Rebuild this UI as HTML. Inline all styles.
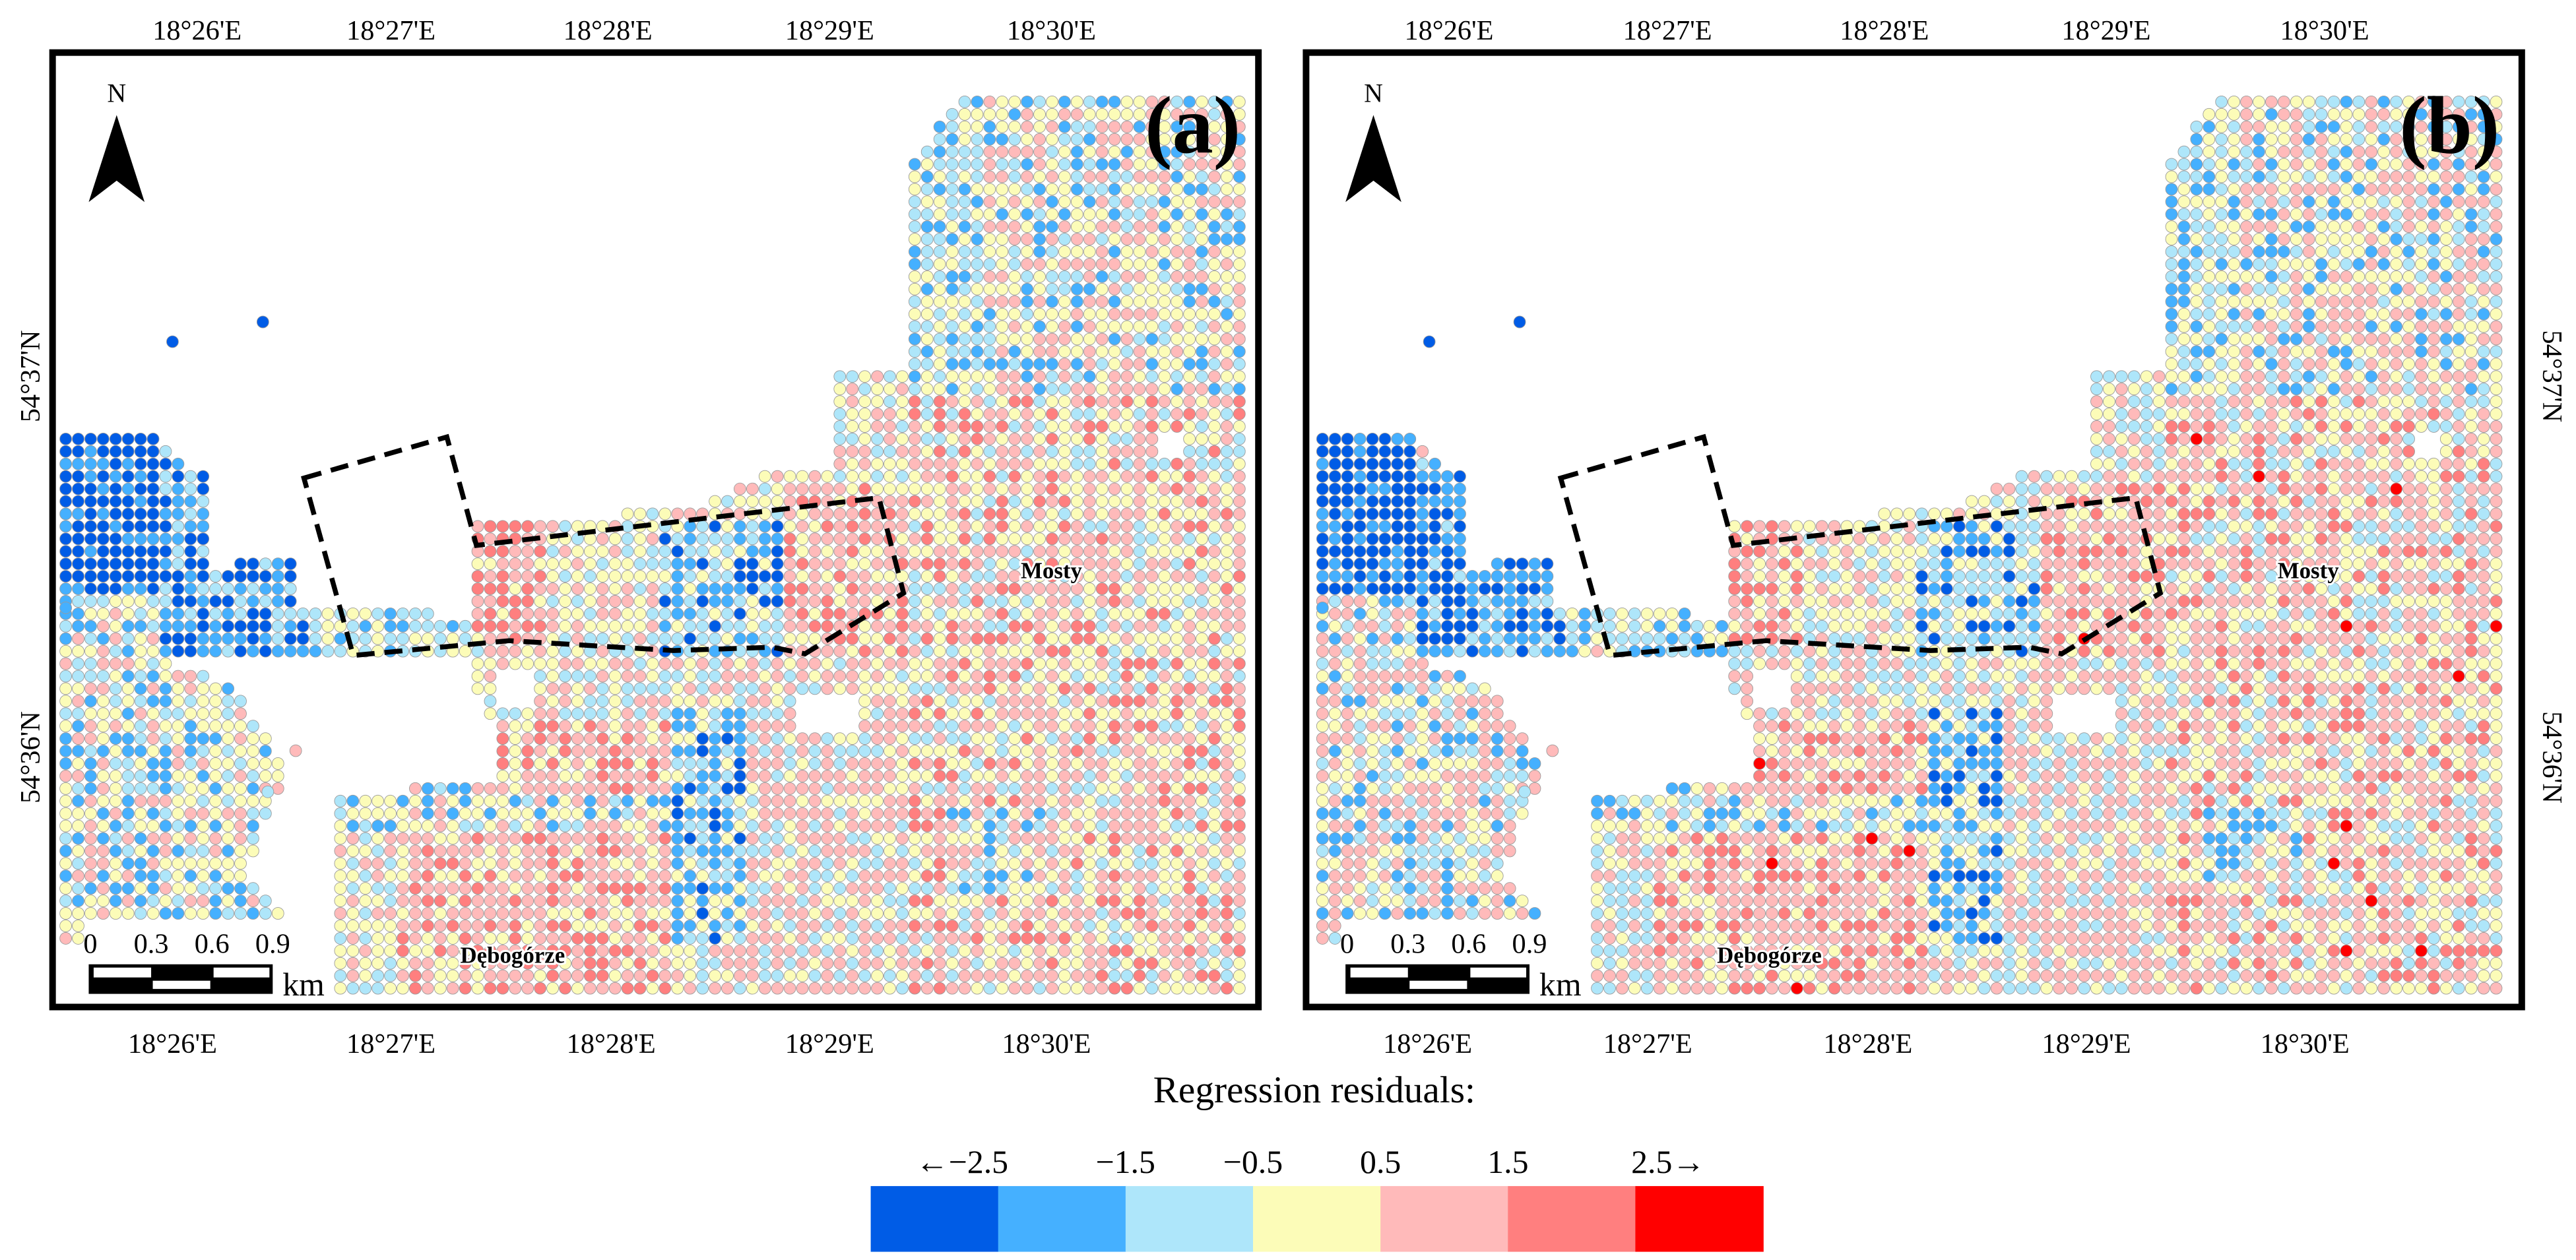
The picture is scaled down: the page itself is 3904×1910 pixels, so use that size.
<!DOCTYPE html>
<html><head><meta charset="utf-8"><title>Regression residuals maps</title>
<style>
html,body{margin:0;padding:0;background:#fff;}
svg{display:block;font-family:"Liberation Serif",serif;}
</style></head>
<body>
<svg id="fig" xmlns="http://www.w3.org/2000/svg" width="3904" height="1910" viewBox="0 0 1568 767" preserveAspectRatio="none">
<rect x="0" y="0" width="1568" height="767" fill="#fff"/>
<g id="dotsA"></g>
<g id="dotsB"></g>

<rect x="32" y="32" width="734" height="581" fill="none" stroke="#000" stroke-width="4"/>
<rect x="795" y="32" width="740" height="581" fill="none" stroke="#000" stroke-width="4"/>

<polygon points="185,291 272,266 290,332 535,303 550,361 490,398 470,394 410,396 310,390 215,399" fill="none" stroke="#000" stroke-width="3" stroke-dasharray="11,6"/>
<polygon points="950,291 1037,266 1055,332 1300,303 1315,361 1255,398 1235,394 1175,396 1075,390 980,399" fill="none" stroke="#000" stroke-width="3" stroke-dasharray="11,6"/>

<text x="726" y="93" font-size="50" font-weight="bold" text-anchor="middle">(a)</text>
<text x="1491" y="93" font-size="50" font-weight="bold" text-anchor="middle">(b)</text>

<g font-weight="bold" font-size="14" text-anchor="middle" stroke="#fff" stroke-width="2.5" paint-order="stroke" fill="#000">
<text x="640" y="352">Mosty</text>
<text x="312" y="586">Dębogórze</text>
<text x="1405" y="352">Mosty</text>
<text x="1077" y="586">Dębogórze</text>
</g>

<g>
<text x="71" y="62" font-size="16" text-anchor="middle">N</text>
<polygon points="71,70 88,123 71,110 54,123" fill="#000"/>
</g>
<g>
<text x="836" y="62" font-size="16" text-anchor="middle">N</text>
<polygon points="836,70 853,123 836,110 819,123" fill="#000"/>
</g>

<g>
<rect x="54" y="587" width="112" height="18" fill="#000"/>
<rect x="57" y="589" width="35" height="6" fill="#fff"/>
<rect x="130" y="589" width="34" height="6" fill="#fff"/>
<rect x="93" y="597" width="35" height="5" fill="#fff"/>
<g font-size="17" text-anchor="middle"><text x="55" y="580">0</text><text x="92" y="580">0.3</text><text x="129" y="580">0.6</text><text x="166" y="580">0.9</text></g>
<text x="172" y="606" font-size="20">km</text>
</g>
<g>
<rect x="819" y="587" width="112" height="18" fill="#000"/>
<rect x="822" y="589" width="35" height="6" fill="#fff"/>
<rect x="895" y="589" width="34" height="6" fill="#fff"/>
<rect x="858" y="597" width="35" height="5" fill="#fff"/>
<g font-size="17" text-anchor="middle"><text x="820" y="580">0</text><text x="857" y="580">0.3</text><text x="894" y="580">0.6</text><text x="931" y="580">0.9</text></g>
<text x="937" y="606" font-size="20">km</text>
</g>

<g font-size="17" text-anchor="middle" id="ticks"></g>
<text font-size="17" text-anchor="middle" transform="translate(24,229) rotate(-90)">54°37'N</text>
<text font-size="17" text-anchor="middle" transform="translate(24,461) rotate(-90)">54°36'N</text>
<text font-size="17" text-anchor="middle" transform="translate(1548,229) rotate(90)">54°37'N</text>
<text font-size="17" text-anchor="middle" transform="translate(1548,461) rotate(90)">54°36'N</text>

<text x="800" y="671" font-size="23" text-anchor="middle">Regression residuals:</text>
<g id="legend"></g>
</svg>
<script>
var NS = "http://www.w3.org/2000/svg";
var legendColors = ["#005ce6","#45b0ff","#aee6fa","#fcfcb8","#ffbaba","#ff7f7f","#ff0000"];
var legendBreaks = ["←−2.5","−1.5","−0.5","0.5","1.5","2.5→"];
var lonLabels = ["18°26'E","18°27'E","18°28'E","18°29'E","18°30'E"];
var topTickA = [120,238,370,505,640];
var botTickA = [105,238,372,505,637];
var topTickB = [882,1015,1147,1282,1415];
var botTickB = [869,1003,1137,1270,1403];

var landPolys = [
 [[585,57],[760,57],[760,607],[550,607],[550,100],[568,88],[575,68]],
 [[505,228],[550,228],[550,400],[290,400],[285,315],[415,312],[465,287],[505,287]],
 [[290,395],[550,395],[550,607],[200,607],[200,485],[300,475],[300,440],[290,420]],
 [[40,265],[90,262],[125,290],[125,345],[180,340],[185,370],[290,375],[290,402],[180,402],[100,402],[40,360]],
 [[40,360],[90,372],[90,400],[140,415],[175,470],[150,530],[175,560],[170,578],[40,578]]
];
var holePolys = [
 [[486,420],[522,420],[522,448],[486,448]],
 [[300,410],[322,410],[322,432],[300,432]],
 [[705,262],[720,262],[720,280],[705,280]],
 [[48,560],[172,560],[172,607],[48,607]]
];
var zones = [
 [40,255,100,362,[0,0,0,1]],
 [100,280,190,402,[1,0,1,2,0]],
 [185,355,290,405,[2,3,1,2]],
 [290,315,335,395,[5,4,5,4,3]],
 [400,320,475,398,[2,1,3,2,0]],
 [480,295,552,400,[4,5,4,3]],
 [335,300,480,400,[3,2,4,3]],
 [550,50,600,240,[2,1,3,2,3]],
 [600,50,765,240,[3,2,4,3,4,1]],
 [405,428,452,575,[1,2,0,1,3]],
 [290,440,420,485,[4,5,3,4]],
 [240,510,405,610,[4,5,4,3]],
 [195,470,410,515,[2,3,1,4,3]],
 [450,398,552,610,[3,4,2,4]],
 [575,490,640,545,[2,1,3,4]],
 [550,240,765,610,[4,3,4,5,2,3]],
 [30,360,190,600,[3,2,4,1,3]]
];
var strays = [[105,208,0],[160,196,0],[180,457,4],[163,482,2],[40,370,1]];

function inPoly(x,y,p){var c=false;for(var i=0,j=p.length-1;i<p.length;j=i++){var xi=p[i][0],yi=p[i][1],xj=p[j][0],yj=p[j][1];if(((yi>y)!=(yj>y))&&(x<(xj-xi)*(y-yi)/(yj-yi)+xi))c=!c;}return c;}
function inLand(x,y){for(var k=0;k<holePolys.length;k++)if(inPoly(x,y,holePolys[k]))return false;for(var k=0;k<landPolys.length;k++)if(inPoly(x,y,landPolys[k]))return true;return false;}
function classAt(x,y,i,j,seed,bias){
 var pal=[3,4,2];
 for(var k=0;k<zones.length;k++){var z=zones[k];if(x>=z[0]&&x<z[2]&&y>=z[1]&&y<z[3]){pal=z[4];break;}}
 var h=((i*73856093)^(j*19349663)^(seed*83492791))>>>0;h=(h%9973);
 var c=pal[h%pal.length];
 if(bias&&c===3&&(h%5===0))c=4;
 if(bias&&c===5&&(h%17===0))c=6;
 return c;
}
function drawPanel(gid,dx,seed,bias){
 var g=document.getElementById(gid);
 var step=7.6;
 for(var j=0;j*step+62<=607;j++){
  for(var i=0;i*step+40<=762;i++){
   var x=40+i*step,y=62+j*step;
   if(!inLand(x,y))continue;
   var c=classAt(x,y,i,j,seed,bias);
   var el=document.createElementNS(NS,"circle");
   
   
   el.setAttribute("cx",(x+dx).toFixed(1));el.setAttribute("cy",y.toFixed(1));el.setAttribute("r","3.6");
   el.setAttribute("fill",legendColors[c]);el.setAttribute("stroke","#9a9a9a");el.setAttribute("stroke-width","0.35");
   g.appendChild(el);
  }
 }
 strays.forEach(function(s){
  var el=document.createElementNS(NS,"circle");
  
  
  el.setAttribute("cx",s[0]+dx);el.setAttribute("cy",s[1]);el.setAttribute("r","3.6");
  el.setAttribute("fill",legendColors[s[2]]);el.setAttribute("stroke","#9a9a9a");el.setAttribute("stroke-width","0.35");
  g.appendChild(el);
 });
}
drawPanel("dotsA",0,1,false);
drawPanel("dotsB",765,2,true);

var tg=document.getElementById("ticks");
function tick(x,y,t,name){
 var el=document.createElementNS(NS,"text");
 
 
 el.setAttribute("x",x);el.setAttribute("y",y);el.textContent=t;tg.appendChild(el);
}
for(var k=0;k<lonLabels.length;k++){
 tick(topTickA[k],24,lonLabels[k],'panel-a-top-tick');
 tick(botTickA[k],641,lonLabels[k],'panel-a-bottom-tick');
 tick(topTickB[k],24,lonLabels[k],'panel-b-top-tick');
 tick(botTickB[k],641,lonLabels[k],'panel-b-bottom-tick');
}
var lg=document.getElementById("legend");
var lx0=530,lw=543/7;
for(var k=0;k<legendColors.length;k++){
 var r=document.createElementNS(NS,"rect");
 
 
 r.setAttribute("x",(lx0+k*lw).toFixed(2));r.setAttribute("y",722);r.setAttribute("width",(lw+0.5).toFixed(2));r.setAttribute("height",40);
 r.setAttribute("fill",legendColors[k]);lg.appendChild(r);
}
for(var k=0;k<legendBreaks.length;k++){
 var t=document.createElementNS(NS,"text");
 
 
 var bx=lx0+(k+1)*lw;
 if(k===0)bx-=22; if(k===legendBreaks.length-1)bx+=20;
 t.setAttribute("x",bx.toFixed(1));t.setAttribute("y",714);t.setAttribute("font-size","20");t.setAttribute("text-anchor","middle");
 t.textContent=legendBreaks[k];lg.appendChild(t);
}
</script>
</body></html>
